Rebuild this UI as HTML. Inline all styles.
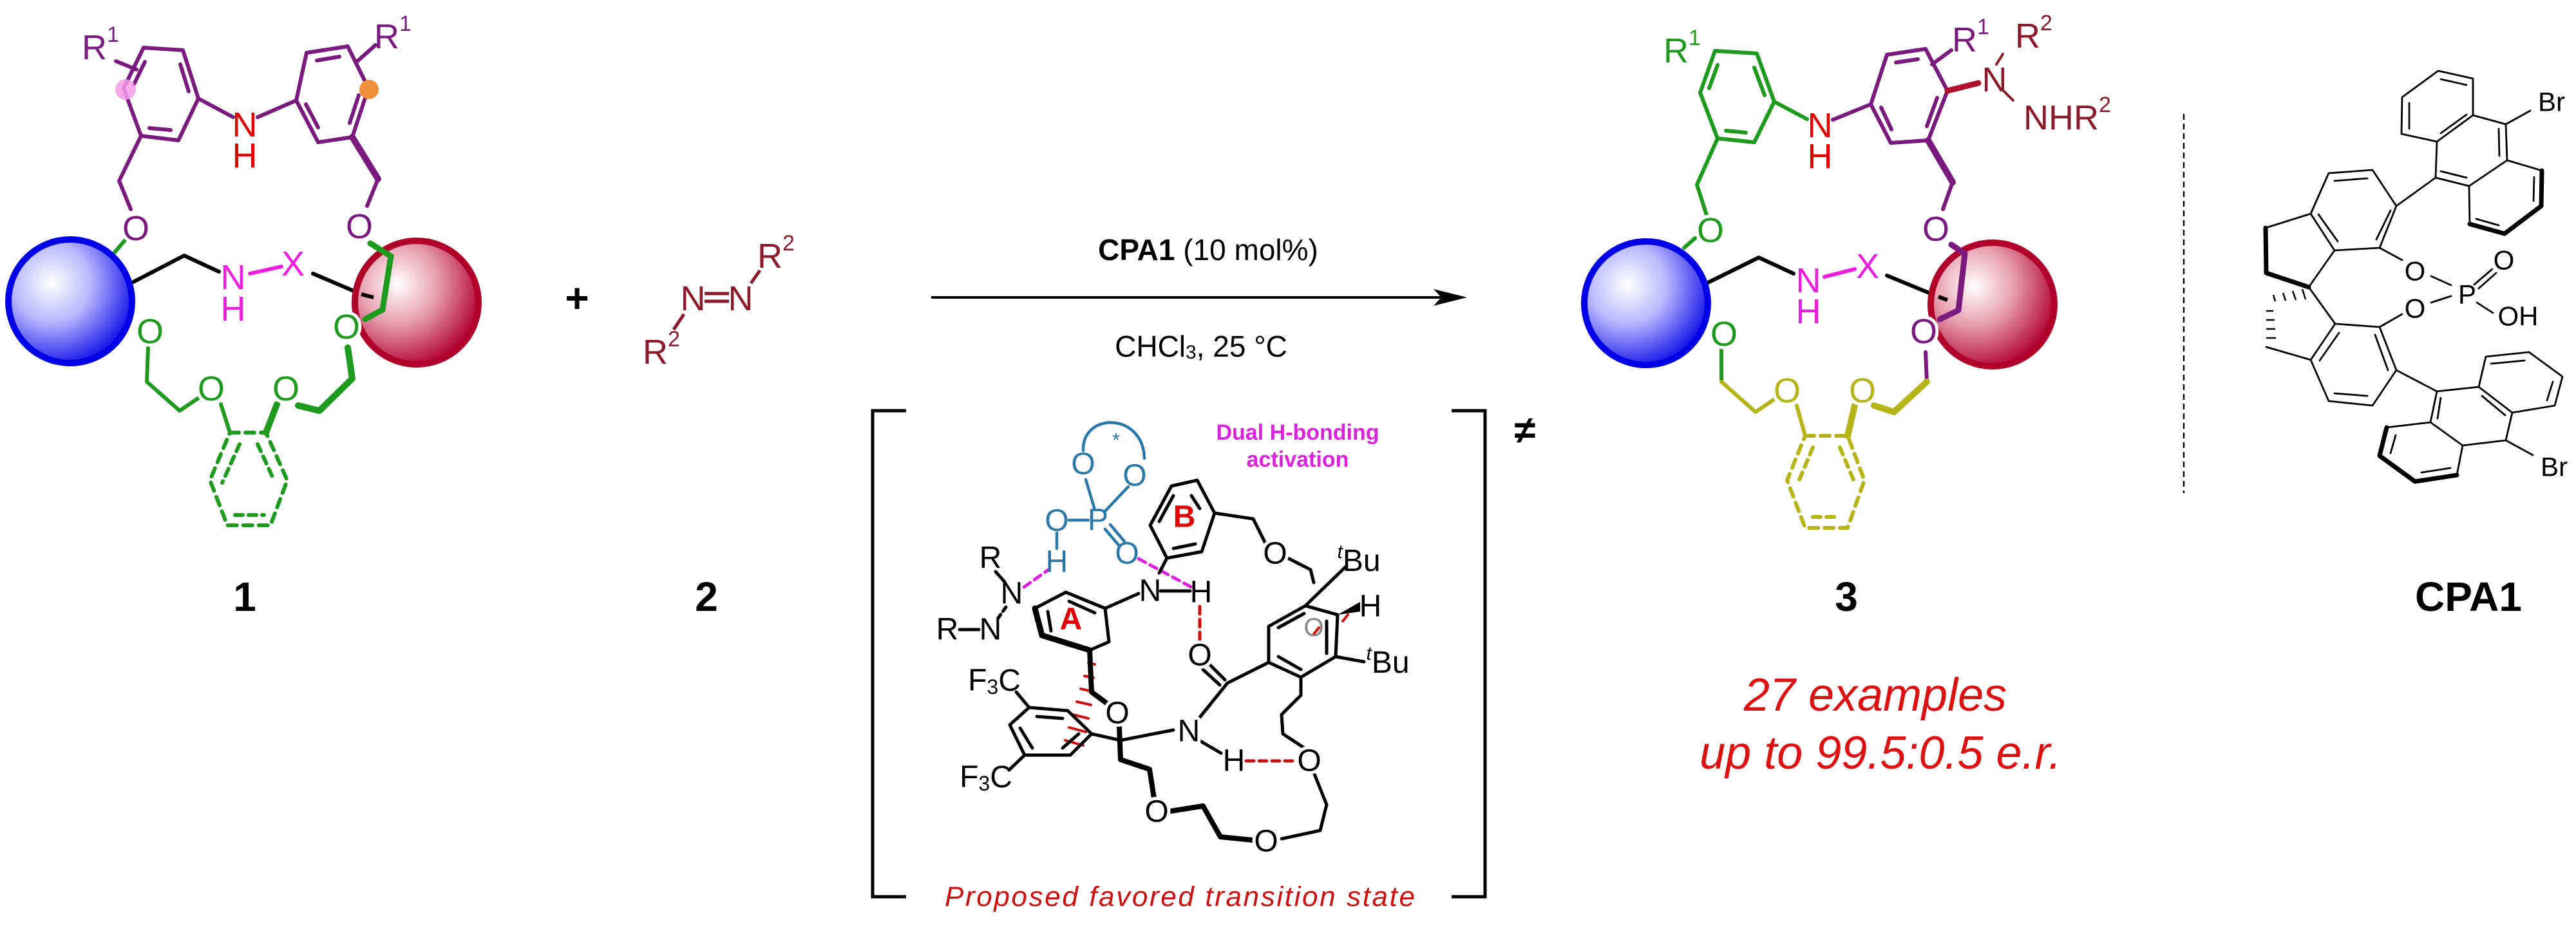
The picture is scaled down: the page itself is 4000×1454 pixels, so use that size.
<!DOCTYPE html>
<html><head><meta charset="utf-8">
<style>
html,body{margin:0;padding:0;background:#fff;}
svg{display:block;}
text{font-family:"Liberation Sans",Arial,sans-serif;}
.h{stroke:#fff;stroke-width:10;paint-order:stroke;stroke-linejoin:round;}
</style></head>
<body>
<svg width="4000" height="1454" viewBox="0 0 4000 1454" xmlns="http://www.w3.org/2000/svg">
<defs>
<radialGradient id="gb" cx="35%" cy="35%" r="70%">
<stop offset="0" stop-color="#ffffff"/><stop offset="0.45" stop-color="#b8b8ff"/><stop offset="1" stop-color="#1010e8"/>
</radialGradient>
<radialGradient id="gr" cx="35%" cy="35%" r="70%">
<stop offset="0" stop-color="#ffffff"/><stop offset="0.45" stop-color="#e8a0b0"/><stop offset="1" stop-color="#b00030"/>
</radialGradient>
</defs>

<!-- ============ COMPOUND 1 ============ -->
<g fill="none" stroke-linecap="round" stroke-linejoin="round">
<g stroke="#7a1a7e" stroke-width="6">
<polygon points="223,74 284,78 308,153 277,218 219,211 192,137"/>
<line x1="280" y1="100" x2="293" y2="142"/><line x1="265" y1="202" x2="232" y2="199"/><line x1="208" y1="131" x2="225" y2="96"/>
<polygon points="476,82 540,72 572,137 547,213 494,221 460,156"/>
<line x1="492" y1="94" x2="527" y2="88"/><line x1="557" y1="148" x2="543" y2="191"/><line x1="494" y1="198" x2="475" y2="162"/>
<line x1="308" y1="153" x2="362" y2="182"/><line x1="460" y1="156" x2="400" y2="182"/>
<polyline points="219,211 185,281 203,325"/>
<polyline points="547,213 587,278" stroke-width="10"/><polyline points="587,278 570,320"/>
<line x1="180" y1="95" x2="212" y2="108"/><line x1="555" y1="95" x2="583" y2="70"/>
</g>
<circle cx="195" cy="139" r="16" fill="#f29be8" stroke="none" opacity="0.85"/>
<circle cx="573" cy="139" r="15" fill="#f0903a" stroke="none"/>
<g stroke="#1e9a1e" stroke-width="6">
<line x1="178" y1="392" x2="195" y2="372"/>
<polyline points="230,540 228,593 279,638 310,617"/>
<polyline points="463,630 496,638 547,588 540,540" stroke-width="10"/>
<line x1="343" y1="628" x2="357" y2="672"/><line x1="430" y1="628" x2="413" y2="672" stroke-width="10"/>
<polygon points="357,672 413,672 446,746 420,816 353,816 326,746" stroke-dasharray="14,10"/>
<line x1="372" y1="690" x2="345" y2="750" stroke-dasharray="12,9"/><line x1="400" y1="690" x2="425" y2="745" stroke-dasharray="12,9"/><line x1="365" y1="800" x2="410" y2="800" stroke-dasharray="12,9"/>
</g>
<polyline points="207,438 286,397 340,422" stroke="#000" stroke-width="6"/>
<line x1="388" y1="425" x2="437" y2="414" stroke="#ee1ee0" stroke-width="6"/>
<line x1="486" y1="425" x2="561" y2="457" stroke="#000" stroke-width="6"/>
</g>
<circle cx="109" cy="468" r="96" fill="url(#gb)" stroke="#0000e6" stroke-width="10"/>
<circle cx="647" cy="470" r="96" fill="url(#gr)" stroke="#b0002a" stroke-width="10"/>
<g fill="none" stroke-linecap="round" stroke="#1e9a1e">
<polyline points="575,378 607,398 594,481 567,496" stroke-width="9"/>
</g>
<line x1="561" y1="457" x2="580" y2="462" stroke="#000" stroke-width="6"/>
<g font-size="54" text-anchor="middle" dominant-baseline="central">
<text x="156" y="74" fill="#7a1a7e">R<tspan font-size="34" dy="-20">1</tspan></text>
<text x="610" y="57" fill="#7a1a7e">R<tspan font-size="34" dy="-20">1</tspan></text>
<text x="380" y="194" fill="#e00000">N</text><text x="380" y="242" fill="#e00000">H</text>
<text x="211" y="355" fill="#7a1a7e" class="h">O</text>
<text x="558" y="352" fill="#7a1a7e" class="h">O</text>
<text x="362" y="431" fill="#ee1ee0">N</text><text x="362" y="480" fill="#ee1ee0">H</text>
<text x="455" y="410" fill="#ee1ee0">X</text>
<text x="233" y="515" fill="#1e9a1e" class="h">O</text>
<text x="538" y="508" fill="#1e9a1e" class="h">O</text>
<text x="328" y="604" fill="#1e9a1e" class="h">O</text>
<text x="444" y="604" fill="#1e9a1e" class="h">O</text>
</g>

<text x="896" y="463" font-size="64" font-weight="bold" text-anchor="middle" dominant-baseline="central">+</text>
<g stroke="#8b1a2b" stroke-width="5" fill="none">
<line x1="1046" y1="512" x2="1062" y2="488"/>
<line x1="1094" y1="456" x2="1132" y2="456"/><line x1="1094" y1="468" x2="1132" y2="468"/>
<line x1="1166" y1="440" x2="1180" y2="420"/>
</g>
<g font-size="54" text-anchor="middle" dominant-baseline="central" fill="#8b1a2b">
<text x="1076" y="464">N</text><text x="1150" y="464">N</text>
<text x="1205" y="398">R<tspan font-size="34" dy="-20">2</tspan></text>
<text x="1027" y="547">R<tspan font-size="34" dy="-20">2</tspan></text>
</g>
<g font-size="64" font-weight="bold" text-anchor="middle" dominant-baseline="central">
<text x="380" y="927">1</text><text x="1097" y="927">2</text><text x="2867" y="927">3</text><text x="3833" y="927">CPA1</text>
</g>

<!-- ============ ARROW ============ -->
<text x="1876" y="388" font-size="46" text-anchor="middle" dominant-baseline="central"><tspan font-weight="bold">CPA1</tspan> (10 mol%)</text>
<line x1="1446" y1="462" x2="2250" y2="462" stroke="#000" stroke-width="4"/>
<polygon points="2278,462 2226,449 2238,462 2226,475" fill="#000"/>
<text x="1865" y="538" font-size="46" text-anchor="middle" dominant-baseline="central">CHCl<tspan font-size="30" dy="9">3</tspan><tspan dy="-9">, 25 °C</tspan></text>

<!-- ============ TRANSITION STATE ============ -->
<g fill="none" stroke="#000" stroke-width="5">
<polyline points="1407,638 1355,638 1355,1393 1407,1393"/>
<polyline points="2254,638 2306,638 2306,1393 2254,1393"/>
</g>
<text x="2368" y="668" font-size="60" font-weight="bold" text-anchor="middle" dominant-baseline="central">≠</text>
<text x="1832" y="1393" font-size="44" font-style="italic" fill="#cc1010" text-anchor="middle" dominant-baseline="central" textLength="730">Proposed favored transition state</text>
<g font-size="34" font-weight="bold" fill="#dd22dd" text-anchor="middle" dominant-baseline="central">
<text x="2015" y="672">Dual H-bonding</text><text x="2015" y="714">activation</text>
</g>
<g fill="none" stroke-linecap="round" stroke-linejoin="round">
<g stroke="#2a78a8" stroke-width="4.5">
<path d="M1682,700 C1680,640 1775,640 1777,712"/>
<line x1="1686" y1="745" x2="1700" y2="792"/><line x1="1716" y1="794" x2="1752" y2="756"/>
<line x1="1660" y1="808" x2="1690" y2="808"/>
<line x1="1641" y1="828" x2="1641" y2="852"/>
<line x1="1716" y1="822" x2="1738" y2="848"/><line x1="1724" y1="815" x2="1746" y2="841"/>
</g>
<g stroke="#dd22dd" stroke-width="5" stroke-dasharray="12,8">
<line x1="1590" y1="912" x2="1628" y2="885"/><line x1="1768" y1="868" x2="1850" y2="912"/>
</g>
<g stroke="#cc1010" stroke-width="5" stroke-dasharray="12,8">
<line x1="1863" y1="942" x2="1863" y2="1000"/><line x1="1935" y1="1182" x2="2012" y2="1182"/>
</g>
<g stroke="#cc1010" stroke-width="4">
<line x1="1690" y1="1030" x2="1700" y2="1032"/><line x1="1684" y1="1050" x2="1698" y2="1053"/><line x1="1678" y1="1070" x2="1696" y2="1074"/><line x1="1672" y1="1090" x2="1694" y2="1095"/><line x1="1666" y1="1110" x2="1690" y2="1116"/><line x1="1660" y1="1130" x2="1686" y2="1137"/><line x1="1654" y1="1150" x2="1682" y2="1158"/>
<line x1="2040" y1="985" x2="2048" y2="975"/><line x1="2085" y1="965" x2="2093" y2="955"/>
</g>
<g stroke="#000" stroke-width="5">
<line x1="1546" y1="888" x2="1560" y2="904"/>
<line x1="1562" y1="943" x2="1550" y2="960" stroke-dasharray="8,6"/>
<line x1="1490" y1="978" x2="1520" y2="978"/>
<polygon points="1786,816 1819,755 1859,746 1886,797 1866,857 1812,867"/>
<line x1="1800" y1="810" x2="1822" y2="770"/><line x1="1863" y1="790" x2="1850" y2="770"/><line x1="1822" y1="852" x2="1856" y2="845"/>
<polyline points="1886,797 1946,806 1966,846"/>
<polyline points="1998,866 2035,885 2040,905"/>
<line x1="1812" y1="867" x2="1800" y2="890"/>
<polygon points="1607,945 1655,920 1716,945 1722,997 1692,1010 1618,987"/>
<polyline points="1607,945 1618,987 1692,1010" stroke-width="9"/>
<line x1="1627" y1="950" x2="1632" y2="980"/><line x1="1660" y1="934" x2="1700" y2="952"/>
<line x1="1716" y1="945" x2="1768" y2="922"/>
<line x1="1802" y1="918" x2="1848" y2="918"/>
<polyline points="1692,1010 1695,1075 1722,1095" stroke-width="8"/>
<polygon points="1970,973 2027,941 2077,955 2074,1020 2020,1052 1970,1029"/>
<line x1="1985" y1="1020" x2="2020" y2="1040"/><line x1="2060" y1="965" x2="2060" y2="1015"/><line x1="1985" y1="975" x2="2025" y2="953"/>
<line x1="2027" y1="941" x2="2090" y2="880"/>
<line x1="2074" y1="1020" x2="2118" y2="1028"/>
<polyline points="2020,1052 2020,1080 1990,1110 1992,1140 2030,1165"/>
<line x1="1876" y1="1030" x2="1902" y2="1056"/><line x1="1868" y1="1040" x2="1894" y2="1064"/>
<line x1="1906" y1="1061" x2="1970" y2="1029"/>
<line x1="1906" y1="1061" x2="1860" y2="1118"/>
<line x1="1862" y1="1150" x2="1896" y2="1170"/>
<polygon points="1568,1126 1598,1099 1658,1104 1695,1140 1662,1173 1591,1173"/>
<line x1="1584" y1="1131" x2="1603" y2="1162"/><line x1="1650" y1="1162" x2="1675" y2="1140"/><line x1="1610" y1="1113" x2="1650" y2="1116"/>
<line x1="1598" y1="1099" x2="1578" y2="1075"/><line x1="1591" y1="1173" x2="1568" y2="1195"/>
<polyline points="1695,1140 1740,1150 1822,1134"/>
<polyline points="1738,1128 1740,1180 1785,1195 1792,1240" stroke-width="8"/>
<polyline points="1818,1260 1868,1252 1895,1300 1945,1305" stroke-width="8"/>
<polyline points="1990,1303 2050,1290 2060,1250 2040,1200"/>
</g>
<path d="M2077,955 L2112,935 L2112,950 Z" fill="#000"/>
</g>
<g font-size="48" text-anchor="middle" dominant-baseline="central">
<g fill="#2a78a8">
<text x="1682" y="721">O</text><text x="1762" y="739">O</text><text x="1705" y="808">P</text>
<text x="1641" y="809">O</text><text x="1641" y="873">H</text><text x="1750" y="860">O</text>
<text x="1733" y="684" font-size="30">*</text>
</g>
<text x="1538" y="867">R</text><text x="1571" y="922">N</text>
<text x="1471" y="978">R</text><text x="1538" y="978">N</text>
<text x="1786" y="918">N</text><text x="1865" y="920">H</text>
<text x="1980" y="860" class="h">O</text>
<text x="2110" y="871"><tspan font-size="30" dy="-14" font-style="italic">t</tspan><tspan dy="14">Bu</tspan></text>
<text x="2128" y="942">H</text>
<text x="2155" y="1029"><tspan font-size="30" dy="-14" font-style="italic">t</tspan><tspan dy="14">Bu</tspan></text>
<text x="1863" y="1018" class="h">O</text>
<text x="1846" y="1136" class="h">N</text><text x="1916" y="1182">H</text>
<text x="2033" y="1182" class="h">O</text>
<text x="1735" y="1108" class="h">O</text><text x="1796" y="1261" class="h">O</text><text x="1966" y="1307" class="h">O</text>
<text x="1544" y="1057">F<tspan font-size="32" dy="10">3</tspan><tspan dy="-10">C</tspan></text>
<text x="1531" y="1207">F<tspan font-size="32" dy="10">3</tspan><tspan dy="-10">C</tspan></text>
<text x="1839" y="803" fill="#e00000" font-weight="bold">B</text>
<text x="1663" y="962" fill="#e00000" font-weight="bold">A</text>
</g>
<text x="2040" y="975" font-size="40" fill="#888" text-anchor="middle" dominant-baseline="central">O</text>

<!-- ============ PRODUCT 3 ============ -->
<g fill="none" stroke-linecap="round" stroke-linejoin="round" stroke-width="6">
<g stroke="#1e9a1e">
<polygon points="2663,79 2728,83 2755,158 2724,221 2667,215 2640,144"/>
<line x1="2724" y1="105" x2="2740" y2="148"/><line x1="2711" y1="206" x2="2680" y2="203"/><line x1="2654" y1="137" x2="2667" y2="101"/>
<line x1="2755" y1="158" x2="2806" y2="185"/>
<polyline points="2667,215 2635,287 2650,334"/>
<line x1="2615" y1="385" x2="2632" y2="370"/>
<polyline points="2673,542 2673,593"/>
</g>
<g stroke="#7a1a7e">
<polygon points="2930,85 2990,76 3024,141 2994,218 2936,222 2905,162"/>
<line x1="2944" y1="97" x2="2978" y2="92"/><line x1="3008" y1="152" x2="2992" y2="196"/><line x1="2937" y1="201" x2="2921" y2="167"/>
<line x1="2905" y1="162" x2="2846" y2="186"/>
<polyline points="2994,218 3032,283" stroke-width="10"/><polyline points="3032,283 3017,325"/>
<line x1="3000" y1="100" x2="3030" y2="78"/>
<line x1="2990" y1="547" x2="2992" y2="593"/>
</g>
<line x1="3024" y1="141" x2="3072" y2="129" stroke="#b0102a" stroke-width="9"/>
<g stroke="#8b1a2b" stroke-width="4"><line x1="3100" y1="100" x2="3110" y2="84"/><line x1="3112" y1="142" x2="3126" y2="156"/></g>
<g stroke="#b5b51a">
<polyline points="2673,593 2726,640 2760,617"/>
<polyline points="2910,630 2941,640 2992,593" stroke-width="10"/>
<line x1="2790" y1="630" x2="2803" y2="677"/><line x1="2880" y1="630" x2="2869" y2="677" stroke-width="10"/>
<polygon points="2803,677 2869,677 2895,746 2869,820 2803,820 2775,746" stroke-dasharray="14,10"/>
<line x1="2815" y1="695" x2="2792" y2="750" stroke-dasharray="12,9"/><line x1="2857" y1="695" x2="2880" y2="750" stroke-dasharray="12,9"/><line x1="2815" y1="803" x2="2857" y2="803" stroke-dasharray="12,9"/>
</g>
<polyline points="2650,440 2731,400 2785,425" stroke="#000"/>
<line x1="2833" y1="430" x2="2880" y2="418" stroke="#ee1ee0"/>
<line x1="2930" y1="428" x2="3010" y2="461" stroke="#000"/>
</g>
<circle cx="2556" cy="471" r="96" fill="url(#gb)" stroke="#0000e6" stroke-width="10"/>
<circle cx="3094" cy="473" r="96" fill="url(#gr)" stroke="#b0002a" stroke-width="10"/>
<polyline points="3030,380 3051,394 3041,482 3012,496" fill="none" stroke="#7a1a7e" stroke-width="9" stroke-linecap="round" stroke-linejoin="round"/>
<line x1="3010" y1="461" x2="3024" y2="466" stroke="#000" stroke-width="6"/>
<g font-size="54" text-anchor="middle" dominant-baseline="central">
<text x="2612" y="79" fill="#1e9a1e">R<tspan font-size="34" dy="-20">1</tspan></text>
<text x="3060" y="62" fill="#7a1a7e">R<tspan font-size="34" dy="-20">1</tspan></text>
<text x="3158" y="56" fill="#8b1a2b">R<tspan font-size="34" dy="-20">2</tspan></text>
<text x="3097" y="124" fill="#8b1a2b">N</text>
<text x="3210" y="183" fill="#8b1a2b">NHR<tspan font-size="34" dy="-20">2</tspan></text>
<text x="2826" y="195" fill="#e00000">N</text><text x="2826" y="243" fill="#e00000">H</text>
<text x="2656" y="358" fill="#1e9a1e" class="h">O</text>
<text x="3006" y="356" fill="#7a1a7e" class="h">O</text>
<text x="2808" y="436" fill="#ee1ee0">N</text><text x="2808" y="484" fill="#ee1ee0">H</text>
<text x="2900" y="414" fill="#ee1ee0">X</text>
<text x="2677" y="519" fill="#1e9a1e" class="h">O</text>
<text x="2987" y="515" fill="#7a1a7e" class="h">O</text>
<text x="2775" y="607" fill="#b5b51a" class="h">O</text>
<text x="2892" y="607" fill="#b5b51a" class="h">O</text>
</g>
<g font-size="72" font-style="italic" fill="#dd1111" text-anchor="middle" dominant-baseline="central">
<text x="2912" y="1080">27 examples</text>
<text x="2920" y="1170">up to 99.5:0.5 e.r.</text>
</g>

<line x1="3391" y1="177" x2="3391" y2="766" stroke="#000" stroke-width="2.5" stroke-dasharray="9,6"/>

<!-- ============ CPA1 ============ -->
<g fill="none" stroke="#000" stroke-width="2.8" stroke-linejoin="round" stroke-linecap="round">
<polygon points="3786,110 3840,122 3840,179 3784,220 3729,208 3730,151"/>
<line x1="3790" y1="123" x2="3830" y2="132"/><line x1="3741" y1="160" x2="3741" y2="200"/><line x1="3790" y1="207" x2="3830" y2="178"/>
<polyline points="3840,179 3891,193 3893,249 3834,289 3782,276 3784,220"/>
<line x1="3880" y1="200" x2="3881" y2="242"/><line x1="3790" y1="266" x2="3830" y2="276"/>
<polyline points="3893,249 3947,265"/><polyline points="3947,265 3946,320 3889,363 3835,348" stroke-width="7"/>
<polyline points="3835,348 3834,289"/>
<line x1="3935" y1="275" x2="3934" y2="312"/><line x1="3845" y1="340" x2="3880" y2="350"/>
<line x1="3891" y1="193" x2="3929" y2="172"/>
<line x1="3782" y1="276" x2="3721" y2="320"/>
<polygon points="3721,320 3684,264 3616,269 3588,332 3625,389 3695,385"/>
<line x1="3676" y1="277" x2="3625" y2="281"/><line x1="3600" y1="333" x2="3630" y2="375"/><line x1="3690" y1="372" x2="3712" y2="327"/>
<polyline points="3588,332 3518,354"/>
<polyline points="3518,354 3519,424 3585,446" stroke-width="7"/>
<line x1="3585" y1="446" x2="3625" y2="389"/>
<line x1="3585" y1="446" x2="3626" y2="503"/>
<polyline points="3519,539 3588,559"/>
<polygon points="3626,503 3695,508 3721,575 3684,630 3616,623 3588,559"/>
<line x1="3632" y1="517" x2="3602" y2="560"/><line x1="3625" y1="611" x2="3676" y2="615"/><line x1="3708" y1="575" x2="3688" y2="520"/>
<line x1="3695" y1="385" x2="3730" y2="404"/><line x1="3775" y1="429" x2="3806" y2="443"/>
<line x1="3695" y1="508" x2="3730" y2="488"/><line x1="3775" y1="470" x2="3806" y2="460"/>
<line x1="3842" y1="442" x2="3870" y2="418"/><line x1="3849" y1="448" x2="3876" y2="424"/>
<line x1="3846" y1="470" x2="3871" y2="486"/>
<line x1="3721" y1="575" x2="3784" y2="608"/>
<polygon points="3784,608 3849,601 3901,641 3891,684 3824,692 3774,656"/>
<line x1="3854" y1="615" x2="3890" y2="645"/><line x1="3785" y1="650" x2="3790" y2="618"/>
<polyline points="3849,601 3860,554 3927,547 3979,585 3967,630 3901,641"/>
<line x1="3868" y1="565" x2="3920" y2="560"/><line x1="3964" y1="593" x2="3955" y2="622"/>
<polyline points="3774,656 3706,664"/><polyline points="3706,664 3695,708 3750,748 3815,738" stroke-width="7"/>
<polyline points="3815,738 3824,692"/>
<line x1="3720" y1="676" x2="3712" y2="704"/><line x1="3760" y1="734" x2="3805" y2="727"/>
<line x1="3891" y1="684" x2="3933" y2="707"/>
</g>
<g stroke="#000" stroke-width="2.5">
<line x1="3530" y1="458" x2="3533" y2="468"/><line x1="3545" y1="455" x2="3549" y2="467"/><line x1="3560" y1="452" x2="3565" y2="466"/><line x1="3575" y1="449" x2="3580" y2="465"/>
<line x1="3519" y1="483" x2="3530" y2="483"/><line x1="3519" y1="497" x2="3532" y2="497"/><line x1="3519" y1="511" x2="3533" y2="511"/><line x1="3519" y1="525" x2="3534" y2="525"/>
</g>
<g font-size="42" text-anchor="middle" dominant-baseline="central">
<text x="3962" y="158">Br</text><text x="3966" y="725">Br</text>
<text x="3750" y="421">O</text><text x="3750" y="479">O</text>
<text x="3831" y="457">P</text><text x="3888" y="404">O</text><text x="3910" y="491">OH</text>
</g>
</svg>
</body></html>
